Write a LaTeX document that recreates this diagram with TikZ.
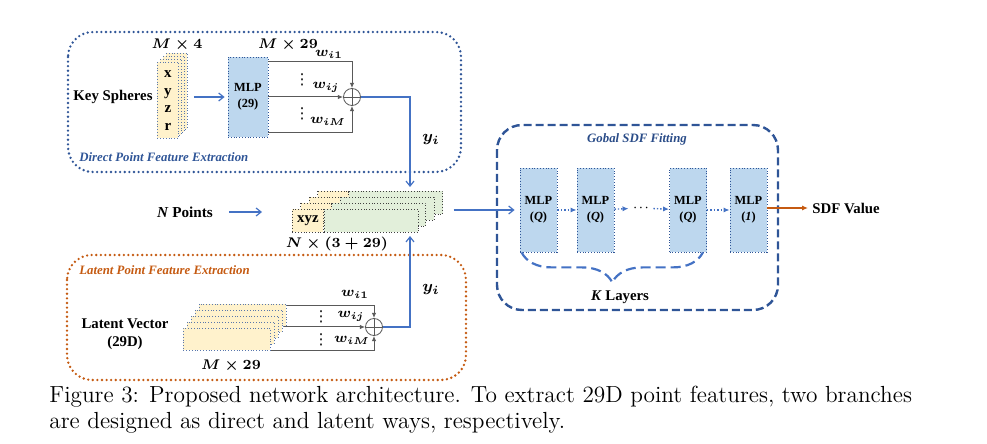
\documentclass[tikz,border=0pt]{standalone}
\usepackage{amsmath}
\usepackage{amssymb}
\usepackage{fontspec}
\newfontfamily\tnr{Liberation Serif}
\newfontfamily\dejavu{DejaVu Sans}
\usepackage{xcolor}
\usepackage{tikz}
\usetikzlibrary{positioning,calc,arrows.meta,decorations.pathreplacing}

\definecolor{arrowblue}{HTML}{4472C4}
\definecolor{darkblue}{HTML}{2F5597}
\definecolor{rust}{HTML}{C55A11}
\definecolor{mlpfill}{HTML}{BDD7EE}
\definecolor{cardyellow}{HTML}{FFF2CC}
\definecolor{cardgreen}{HTML}{E2EFDA}
\definecolor{wgray}{HTML}{595959}

\tikzset{
    lbl/.style={font=\tnr\bfseries\fontsize{7.4}{9}\selectfont, inner sep=0pt, align=center},
    mathlbl/.style={font=\fontsize{7.5}{9}\selectfont, inner sep=0pt},
    wlbl/.style={font=\fontsize{7}{8}\selectfont, inner sep=0pt},
    vdotlbl/.style={font=\dejavu\fontsize{7.5}{8}\selectfont, inner sep=0pt},
    title/.style={font=\tnr\bfseries\itshape\fontsize{6.4}{8}\selectfont, inner sep=0pt},
    mlp/.style={draw=darkblue, densely dotted, fill=mlpfill, minimum width=18.5pt, minimum height=42pt, inner sep=0pt, align=center, font=\tnr\bfseries\fontsize{6.2}{8}\selectfont},
    cardbox/.style={draw=darkblue!80, densely dotted, fill=cardyellow},
    recbox/.style={draw=black!75, densely dotted},
    sumnode/.style={circle, draw=wgray, minimum size=8.5pt, inner sep=0pt, path picture={\draw[wgray] (path picture bounding box.north) -- (path picture bounding box.south) (path picture bounding box.west) -- (path picture bounding box.east);}},
    flow/.style={arrowblue, line width=0.6pt, -{Straight Barb[length=2.5pt,width=4pt]}},
    dflow/.style={arrowblue, line width=0.7pt, densely dotted, -{Latex[length=3pt,width=2.6pt]}},
    wline/.style={wgray, line width=0.5pt, -{Latex[length=2.6pt,width=2.2pt]}},
    outflow/.style={rust, line width=0.7pt, -{Latex[length=3pt,width=2.6pt]}},
    dotframe/.style={line width=1.3pt, line cap=round, dash pattern=on 0pt off 2.3pt, rounded corners=12.5pt}
}

\begin{document}
\begin{tikzpicture}[x=0.5pt, y=-0.5pt]
    \useasboundingbox (0,0) rectangle (987,444);

    % Rahmen
        \draw[dotframe, darkblue] (68,32) rectangle (461,172);
        \draw[dotframe, rust] (67,255) rectangle (466,380);
        \draw[darkblue, line width=1.2pt, dash pattern=on 4pt off 2pt, rounded corners=12.5pt] (497,125) rectangle (778,310);

    % Titel
        \node[title, darkblue, anchor=west] (ttlA) at (79,157) {Direct Point Feature Extraction};
        \node[title, rust, anchor=west] (ttlB) at (79,270) {Latent Point Feature Extraction};
        \node[title, darkblue!90!black] (ttlC) at (637,139) {Gobal SDF Fitting};

    % Key Spheres
        \node[lbl] (keys) at (113,97) {Key Spheres};
        \foreach \k in {3,2,1}
            \draw[cardbox] (157+3*\k, 62-3*\k) rectangle ++(21,76);
        \node[cardbox, anchor=north west, minimum width=10.5pt, minimum height=38pt, inner sep=0pt, lbl, font=\tnr\bfseries\fontsize{7.5}{8.8}\selectfont] (ks) at (157,62) {x\\y\\z\\r};
        \node[mathlbl] (dimA) at (177,45) {$\boldsymbol{M\times 4}$};
        \node[mlp, minimum width=20pt, minimum height=40pt] (mlpA) at (248,97) {MLP\\(29)};
        \node[mathlbl] (dimB) at (288,45) {$\boldsymbol{M\times 29}$};
        \draw[flow, shorten <=7.5pt, shorten >=1.5pt] (ks.east |- mlpA.west) -- (mlpA.west);

    % Gewichtung oben
        \node[sumnode] (sumA) at (352,97) {};
        \draw[wline] ([yshift=-2.5pt]mlpA.north east) -| (sumA.north);
        \draw[wline] (mlpA.east) -- (sumA.west);
        \draw[wline] ([yshift=2.5pt]mlpA.south east) -| (sumA.south);
        \node[wlbl] (wA1) at (329,54) {$\boldsymbol{w_{i1}}$};
        \node[wlbl] (wAj) at (326,87) {$\boldsymbol{w_{ij}}$};
        \node[wlbl] (wAM) at (328,121) {$\boldsymbol{w_{iM}}$};
        \node[vdotlbl] (vdA1) at (302,80) {⋮};
        \node[vdotlbl] (vdA2) at (302,114) {⋮};

    % Punkte
        \node[lbl, font=\tnr\bfseries\fontsize{7.6}{9}\selectfont] (npts) at (185,212) {\textit{N} Points};
        \foreach \k in {3,2,1} {
            \draw[recbox, fill=cardyellow] (292+8.5*\k, 209-6*\k) rectangle ++(31,23);
            \draw[recbox, fill=cardgreen] (323+8.5*\k, 209-6*\k) rectangle ++(94,23);
        }
        \node[recbox, fill=cardyellow, anchor=north west, minimum width=15.5pt, minimum height=11.5pt, inner sep=0pt, lbl] (xyz) at (292,209) {xyz};
        \node[recbox, fill=cardgreen, anchor=west, minimum width=47pt, minimum height=11.5pt, inner sep=0pt] (feat) at (xyz.east) {};
        \node[mathlbl, font=\fontsize{7}{9}\selectfont] (dimN) at (337,244) {$\boldsymbol{N\times(3+29)}$};
        \draw[flow, shorten <=8pt, shorten >=15pt] (npts.east) -- (npts.east -| xyz.west);
        \coordinate (mergeTop) at (410,187);
        \coordinate (mergeBot) at (410,236);

    % Latent Vector
        \node[lbl, font=\tnr\bfseries\fontsize{7.4}{9.2}\selectfont] (latv) at (125,334) {Latent Vector\\(29D)};
        \foreach \k in {4,3,2,1}
            \draw[cardbox] (183+4*\k, 328-6*\k) rectangle ++(87,22);
        \node[cardbox, anchor=north west, minimum width=43.5pt, minimum height=11pt, inner sep=0pt] (lv) at (183,328) {};
        \node[mathlbl] (dimC) at (231,366) {$\boldsymbol{M\times 29}$};

    % Gewichtung unten
        \node[sumnode] (sumB) at (374,327) {};
        \draw[wline] ([shift={(16,-22)}]lv.north east) -| (sumB.north);
        \draw[wline] ([shift={(13,-1)}]lv.north east) -- (sumB.west);
        \draw[wline] (lv.south east) -| (sumB.south);
        \node[wlbl] (wB1) at (355,294) {$\boldsymbol{w_{i1}}$};
        \node[wlbl] (wBj) at (351,316) {$\boldsymbol{w_{ij}}$};
        \node[wlbl] (wBM) at (352,340) {$\boldsymbol{w_{iM}}$};
        \node[vdotlbl] (vdB1) at (321,317) {⋮};
        \node[vdotlbl] (vdB2) at (321,340) {⋮};

    % Zusammenfuehrung
        \draw[flow] (sumA.east) -| (mergeTop);
        \draw[flow] (sumB.east) -| (mergeBot);
        \node[mathlbl, font=\fontsize{8}{9}\selectfont] (yA) at (431,140) {$\boldsymbol{y_i}$};
        \node[mathlbl, font=\fontsize{8}{9}\selectfont] (yB) at (431,290) {$\boldsymbol{y_i}$};

    % SDF Netz
        \node[mlp] (m1) at (538.5,210) {MLP\\(\textit{Q})};
        \node[mlp] (m2) at (595.5,210) {MLP\\(\textit{Q})};
        \node[mlp] (m3) at (688,210) {MLP\\(\textit{Q})};
        \node[mlp] (m4) at (748.5,210) {MLP\\(\textit{1})};
        \node[inner sep=0pt, font=\bfseries\fontsize{7}{8}\selectfont] (gdots) at (641,208) {$\cdot\!\cdot\!\cdot$};
        \draw[flow, shorten <=17.5pt, shorten >=2.5pt] (feat.east |- m1.west) -- (m1.west);
        \draw[dflow] (m1) -- (m2);
        \draw[dflow, shorten >=2pt] (m2) -- (gdots);
        \draw[dflow, shorten <=2pt] (gdots) -- (m3);
        \draw[dflow] (m3) -- (m4);
        \node[lbl, anchor=west] (sdf) at (812,208) {SDF Value};
        \draw[outflow] (m4.east |- sdf.west) -- ([xshift=-2pt]sdf.west);

    % K Layers
        \draw[arrowblue, line width=1.1pt, dash pattern=on 5pt off 2.5pt, decorate, decoration={brace, amplitude=15pt, mirror}] ([xshift=1pt]m1.south west) -- ([xshift=-2pt]m3.south east);
        \node[lbl] (klay) at (620,297) {\textit{K} Layers};

    % Bildunterschrift
        \node[anchor=west, align=left, inner sep=0pt, font=\fontsize{11.65}{13}\selectfont] (cap) at (49,410) {Figure 3: Proposed network architecture.  To extract 29D point features, two branches\\are designed as direct and latent ways, respectively.};
\end{tikzpicture}
\end{document}
